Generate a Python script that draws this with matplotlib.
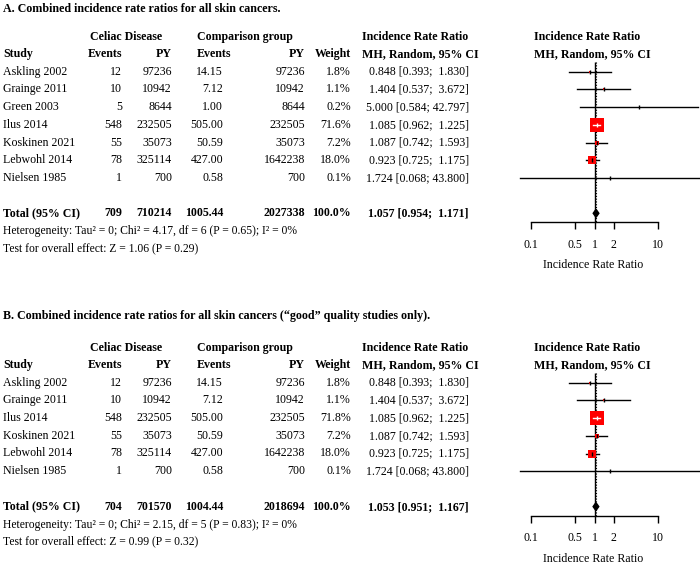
import numpy as np
import matplotlib
matplotlib.use("Agg")
import matplotlib.pyplot as plt

plt.rcParams['font.family'] = ['Liberation Serif', 'DejaVu Serif']

# ---- panel A data ----
a_study = ["Askling 2002", "Grainge 2011", "Green 2003", "Ilus 2014",
           "Koskinen 2021", "Lebwohl 2014", "Nielsen 1985"]
a_ev_cd = [12, 10, 5, 548, 55, 78, 1]
a_py_cd = [97236, 10942, 8644, 232505, 35073, 325114, 700]
a_ev_cmp = [14.15, 7.12, 1.00, 505.00, 50.59, 427.00, 0.58]
a_py_cmp = [97236, 10942, 8644, 232505, 35073, 1642238, 700]
a_weight = [1.8, 1.1, 0.2, 71.6, 7.2, 18.0, 0.1]
a_irr = [0.848, 1.404, 5.000, 1.085, 1.087, 0.923, 1.724]
a_lo = [0.393, 0.537, 0.584, 0.962, 0.742, 0.725, 0.068]
a_hi = [1.830, 3.672, 42.797, 1.225, 1.593, 1.175, 43.800]
a_total = [709, 710214, 1005.44, 2027338, 100.0, 1.057, 0.954, 1.171]
a_het = "Heterogeneity: Tau² = 0; Chi² = 4.17, df = 6 (P = 0.65); I² = 0%"
a_test = "Test for overall effect: Z = 1.06 (P = 0.29)"
a_title = "A. Combined incidence rate ratios for all skin cancers."

# ---- panel B data ----
b_study = ["Askling 2002", "Grainge 2011", "Ilus 2014",
           "Koskinen 2021", "Lebwohl 2014", "Nielsen 1985"]
b_ev_cd = [12, 10, 548, 55, 78, 1]
b_py_cd = [97236, 10942, 232505, 35073, 325114, 700]
b_ev_cmp = [14.15, 7.12, 505.00, 50.59, 427.00, 0.58]
b_py_cmp = [97236, 10942, 232505, 35073, 1642238, 700]
b_weight = [1.8, 1.1, 71.8, 7.2, 18.0, 0.1]
b_irr = [0.848, 1.404, 1.085, 1.087, 0.923, 1.724]
b_lo = [0.393, 0.537, 0.962, 0.742, 0.725, 0.068]
b_hi = [1.830, 3.672, 1.225, 1.593, 1.175, 43.800]
b_total = [704, 701570, 1004.44, 2018694, 100.0, 1.053, 0.951, 1.167]
b_het = "Heterogeneity: Tau² = 0; Chi² = 2.15, df = 5 (P = 0.83); I² = 0%"
b_test = "Test for overall effect: Z = 0.99 (P = 0.32)"
b_title = "B. Combined incidence rate ratios for all skin cancers (\u201cgood\u201d quality studies only)."

W, H = 700, 565
fig = plt.figure(figsize=(7, 5.65), dpi=100)
ax_t = fig.add_axes([0, 0, 1, 1])
ax_t.set_xlim(0, W)
ax_t.set_ylim(H, 0)
ax_t.axis('off')

FS = 8.6
FS_SMALL = 8.4
DY = 17.7
PX_DEC = 63.5     # pixels per decade on the forest axis
X01 = 531         # pixel position of 0.1

# column right edges (pixels)
c_ev1, c_py1, c_ev2, c_py2, c_w, c_ci = 122, 172, 223, 305, 351, 469


def ci_txt(e, lo, hi):
    return f"{e:.3f} [{lo:.3f}; {hi:6.3f}]"


def panel(title, y_title, y_h2, study, ev1, py1, ev2, py2, w, irr, lo, hi, tot, het, test):
    n = len(study)
    y_h1 = y_h2 - 17
    ax_t.text(3, y_title, title, fontsize=8.65, fontweight='bold', va='center')
    # headers
    hb = dict(fontsize=FS, fontweight='bold', va='center')
    ax_t.text(90, y_h1, "Celiac Disease", **hb)
    ax_t.text(197, y_h1, "Comparison group", **hb)
    ax_t.text(362, y_h1, "Incidence Rate Ratio", **hb)
    ax_t.text(534, y_h1, "Incidence Rate Ratio", **hb)
    ax_t.text(3, y_h2, "Study", **hb)
    ax_t.text(c_ev1, y_h2, "Events", ha='right', **hb)
    ax_t.text(c_py1, y_h2, "PY", ha='right', **hb)
    ax_t.text(197, y_h2, "Events", **hb)
    ax_t.text(c_py2, y_h2, "PY", ha='right', **hb)
    ax_t.text(c_w, y_h2, "Weight", ha='right', **hb)
    ax_t.text(362, y_h2, "MH, Random, 95% CI", **hb)
    ax_t.text(534, y_h2, "MH, Random, 95% CI", **hb)

    ys = [y_h2 + DY * (i + 1) for i in range(n)]
    nt = dict(fontsize=FS, va='center')
    for i in range(n):
        y = ys[i]
        ax_t.text(3, y, study[i], **nt)
        ax_t.text(c_ev1, y, f"{ev1[i]}", ha='right', **nt)
        ax_t.text(c_py1, y, f"{py1[i]}", ha='right', **nt)
        ax_t.text(c_ev2, y, f"{ev2[i]:.2f}", ha='right', **nt)
        ax_t.text(c_py2, y, f"{py2[i]}", ha='right', **nt)
        ax_t.text(c_w, y, f"{w[i]:.1f}%", ha='right', **nt)
        ax_t.text(c_ci, y, ci_txt(irr[i], lo[i], hi[i]), ha='right', **nt)

    y_tot = y_h2 + DY * (n + 2)
    ax_t.text(3, y_tot, "Total (95% CI)", **hb)
    ax_t.text(c_ev1, y_tot, f"{tot[0]}", ha='right', **hb)
    ax_t.text(c_py1, y_tot, f"{tot[1]}", ha='right', **hb)
    ax_t.text(c_ev2, y_tot, f"{tot[2]:.2f}", ha='right', **hb)
    ax_t.text(c_py2, y_tot, f"{tot[3]}", ha='right', **hb)
    ax_t.text(c_w, y_tot, f"{tot[4]:.1f}%", ha='right', **hb)
    ax_t.text(c_ci, y_tot, ci_txt(tot[5], tot[6], tot[7]), ha='right', **hb)
    ax_t.text(3, y_tot + 18, het, fontsize=FS_SMALL, va='center')
    ax_t.text(3, y_tot + 35, test, fontsize=FS_SMALL, va='center')

    # forest axes, y in figure pixels
    y_axis = y_tot + 9
    y_top = y_h2 + 8
    left_px, right_px = 505, 700
    ax = fig.add_axes([left_px / W, (H - y_axis) / H, (right_px - left_px) / W, (y_axis - y_top) / H])
    ax.set_xscale('log')
    ax.set_xlim(10 ** (-1 + (left_px - X01) / PX_DEC), 10 ** (-1 + (right_px - X01) / PX_DEC))
    ax.set_ylim(y_axis, y_top)
    ax.patch.set_alpha(0)
    for s in ['top', 'left', 'right']:
        ax.spines[s].set_visible(False)
    ax.spines['bottom'].set_bounds(0.1, 10)
    ax.spines['bottom'].set_linewidth(1.0)
    ax.set_yticks([])
    ax.set_xticks([0.1, 0.5, 1, 2, 10])
    ax.set_xticklabels(["0.1", "0.5", "1", "2", "10"], fontsize=FS)
    ax.xaxis.set_minor_locator(matplotlib.ticker.NullLocator())
    ax.tick_params(axis='x', direction='out', length=5, width=1.0, pad=7)

    ax.vlines(1, y_top, y_axis, color='black', lw=1.0)
    ax.vlines(tot[5], y_top, y_axis, color='black', lw=0.8, linestyles=(0, (1, 1.5)))

    for i in range(n):
        y = ys[i]
        ax.plot([lo[i], hi[i]], [y, y], color='black', lw=1.0, clip_on=False, zorder=2)
        side_px = 1.655 * np.sqrt(w[i])
        side_pt = side_px * 0.72
        ax.scatter([irr[i]], [y], marker='s', s=side_pt ** 2, color='#ff0000',
                   linewidths=0, zorder=3)
        ci_px = PX_DEC * np.log10(hi[i] / lo[i])
        inner = 'white' if side_px > ci_px else 'black'
        if inner == 'white':
            ax.plot([lo[i], hi[i]], [y, y], color='white', lw=1.0, zorder=4)
        ax.plot([irr[i]], [y], marker='|', ms=3.5, mew=1.0, color=inner, zorder=5)

    # pooled diamond
    ax.fill([tot[6], tot[5], tot[7], tot[5]], [y_tot, y_tot - 4, y_tot, y_tot + 4],
            color='black', zorder=5)

    ax_t.text(593, y_axis + 43, "Incidence Rate Ratio", fontsize=FS, ha='center', va='center')


panel(a_title, 9, 54, a_study, a_ev_cd, a_py_cd, a_ev_cmp, a_py_cmp, a_weight,
      a_irr, a_lo, a_hi, a_total, a_het, a_test)
panel(b_title, 316, 365, b_study, b_ev_cd, b_py_cd, b_ev_cmp, b_py_cmp, b_weight,
      b_irr, b_lo, b_hi, b_total, b_het, b_test)

fig.savefig("out.png", dpi=100)
